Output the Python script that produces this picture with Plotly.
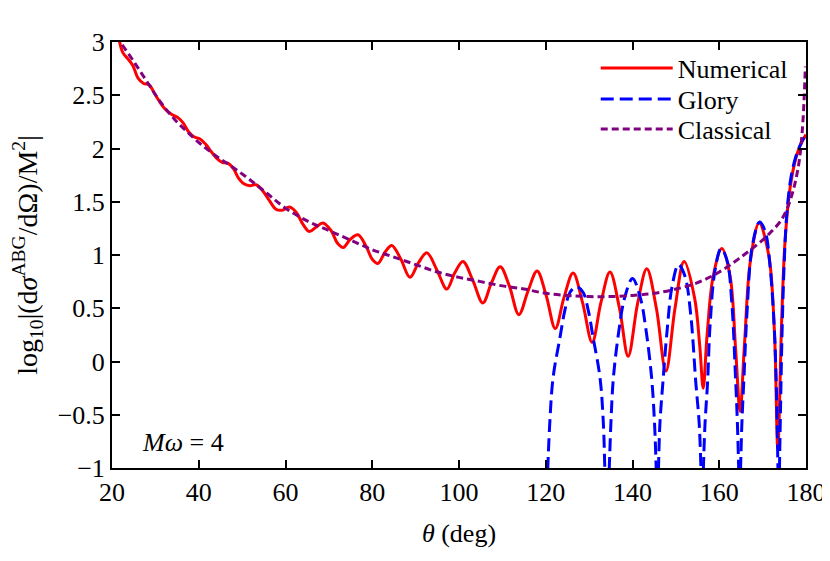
import plotly.graph_objects as go

# ---- data ----
num_theta = [21.6, 22.5, 23.7, 24.8, 26.0, 27.3, 28.5, 29.9, 31.3, 32.5, 33.8, 35.2, 36.4, 37.6,
             38.9, 40.3, 41.6, 42.9, 44.1, 45.4, 46.8, 48.0, 49.2, 50.4, 51.8, 53.2, 54.6, 56.3,
             57.8, 59.2, 60.9, 62.5, 64.0, 65.5, 67.0, 68.6, 70.5, 72.0, 73.3, 75.0, 76.7, 78.6,
             80.0, 81.3, 83.0, 84.5, 86.6, 88.7, 90.7, 92.6, 94.9, 97.2, 99.0, 100.9, 103.2,
             105.5, 107.5, 109.5, 111.6, 113.8, 115.9, 118.0, 120.1, 122.2, 124.2, 126.3, 128.5,
             130.7, 132.7, 134.8, 137.0, 139.0, 141.2, 143.3, 145.5, 147.7, 149.8, 151.9, 154.3,
             155.5, 156.3, 157.2, 158.6, 160.6, 162.5, 163.8, 164.8, 165.8, 167.2, 169.2, 171.4,
             172.7, 173.5, 174.4, 175.2, 176.4, 177.8, 179.0, 180.0]
num_logsig = [3.03, 2.90, 2.84, 2.78, 2.66, 2.61, 2.60, 2.51, 2.42, 2.36, 2.32, 2.29, 2.24, 2.16,
              2.11, 2.09, 2.04, 1.97, 1.91, 1.87, 1.86, 1.81, 1.72, 1.67, 1.65, 1.66, 1.61, 1.51,
              1.43, 1.42, 1.45, 1.40, 1.29, 1.22, 1.26, 1.30, 1.23, 1.11, 1.07, 1.15, 1.19, 1.08,
              0.96, 0.92, 1.03, 1.09, 0.96, 0.79, 0.93, 1.02, 0.86, 0.68, 0.83, 0.94, 0.76,
              0.55, 0.74, 0.89, 0.71, 0.44, 0.66, 0.85, 0.62, 0.31, 0.60, 0.83, 0.55,
              0.18, 0.55, 0.84, 0.50, 0.05, 0.55, 0.87, 0.50, -0.09, 0.50, 0.94, 0.60,
              0.15, -0.25, 0.25, 0.80, 1.06, 0.80, 0.10, -0.47, 0.15, 0.95, 1.30, 1.00,
              0.30, -0.81, 0.40, 1.15, 1.65, 1.93, 2.06, 2.13]

# Glory approximation: separate lobes (None = break where the log diverges)
glory_theta = [120.3, 120.9, 121.7, 123.3, 124.4, 125.6, 127.1, 128.6, 129.8, 130.9, 132.5, 133.3, 133.7, None,
               134.5, 135.0, 135.6, 136.9, 138.2, 140.0, 141.8, 143.1, 144.4, 145.1, 145.6, None,
               145.9, 146.3, 147.0, 148.0, 149.1, 150.6, 152.1, 153.4, 154.6, 155.4, 155.9, None,
               156.2, 156.7, 157.3, 157.9, 159.0, 160.4, 161.8, 162.9, 163.7, 164.2, 164.6, None,
               164.8, 165.2, 165.7, 166.4, 167.6, 169.3, 170.6, 171.7, 172.7, 173.2, 173.6, None,
               173.8, 174.1, 174.5, 175.0, 175.6, 176.5, 177.7, 179.0, 180.0]
glory_logsig = [-1.2, -0.6, -0.15, 0.23, 0.48, 0.65, 0.70, 0.65, 0.48, 0.23, -0.15, -0.6, -1.2, None,
                -1.2, -0.6, -0.15, 0.30, 0.60, 0.78, 0.60, 0.30, -0.15, -0.6, -1.2, None,
                -1.2, -0.6, -0.2, 0.30, 0.70, 0.91, 0.80, 0.45, -0.2, -0.6, -1.2, None,
                -1.2, -0.6, -0.2, 0.35, 0.85, 1.06, 0.95, 0.55, -0.1, -0.6, -1.2, None,
                -1.2, -0.6, -0.15, 0.46, 1.08, 1.31, 1.22, 0.90, 0.30, -0.3, -1.2, None,
                -1.2, -0.5, 0.3, 0.95, 1.40, 1.72, 1.93, 2.06, 2.13]

class_theta = [21.0, 22.1, 25.3, 28.5, 31.3, 34.5, 37.5, 40.5, 44.0, 48.0, 52.0, 56.0, 60.0, 65.0,
               70.0, 75.0, 80.0, 85.0, 90.0, 95.0, 100.0, 105.0, 110.0, 115.0, 120.0, 125.0, 130.0,
               135.0, 140.0, 145.0, 150.0, 155.0, 160.0, 165.0, 170.0, 172.0, 174.0, 175.5, 176.5,
               177.5, 178.5, 179.2, 179.6, 179.85]
class_logsig = [3.06, 2.99, 2.80, 2.60, 2.43, 2.27, 2.15, 2.04, 1.93, 1.82, 1.70, 1.57, 1.44, 1.32,
                1.23, 1.14, 1.05, 0.98, 0.91, 0.84, 0.79, 0.75, 0.71, 0.68, 0.64, 0.62, 0.61,
                0.61, 0.62, 0.64, 0.68, 0.74, 0.84, 0.98, 1.14, 1.22, 1.31, 1.42, 1.53,
                1.68, 1.90, 2.20, 2.50, 2.77]

x_ticks = [20, 40, 60, 80, 100, 120, 140, 160, 180]
y_ticks = [-1, -0.5, 0, 0.5, 1, 1.5, 2, 2.5, 3]
y_ticklabels = ["\u22121", "\u22120.5", "0", "0.5", "1", "1.5", "2", "2.5", "3"]

FONT = "Liberation Serif"

fig = go.Figure()
fig.add_trace(go.Scatter(x=num_theta, y=num_logsig, mode="lines", name="Numerical", legend="legend",
                         line=dict(color="#ff0000", width=3, shape="spline", smoothing=1.0)))
fig.add_trace(go.Scatter(x=glory_theta, y=glory_logsig, mode="lines", name="Glory", legend="legend2",
                         connectgaps=False,
                         line=dict(color="#0000ff", width=3, dash="13px,6px", shape="spline", smoothing=1.0)))
fig.add_trace(go.Scatter(x=class_theta, y=class_logsig, mode="lines", name="Classical", legend="legend3",
                         line=dict(color="#800080", width=3, dash="7px,4px", shape="spline", smoothing=1.0)))

axis_common = dict(showgrid=False, zeroline=False, showline=True, linecolor="black", linewidth=2,
                   mirror="ticks", ticks="inside", ticklen=8, tickwidth=1.5, tickcolor="black",
                   automargin=False,
                   tickfont=dict(family=FONT, size=26, color="black"))

fig.update_xaxes(range=[20, 180], tickvals=x_ticks, ticktext=[str(v) for v in x_ticks],
                 title=dict(text="<i>θ</i> (deg)", font=dict(family=FONT, size=26, color="black"),
                            standoff=18),
                 **axis_common)
fig.update_yaxes(range=[-1, 3], tickvals=y_ticks, ticktext=y_ticklabels,
                 title=dict(text="log<sub>10</sub>|(d<i>σ</i><sup>ABG</sup>/dΩ)/M<sup>2</sup>|",
                            font=dict(family=FONT, size=28, color="black"), standoff=34),
                 **axis_common)

fig.add_annotation(x=0.04, y=0.06, xref="paper", yref="paper", xanchor="left", yanchor="middle",
                   text="<i>Mω</i> = 4", showarrow=False,
                   font=dict(family=FONT, size=26, color="black"))

leg_common = dict(xanchor="left", yanchor="middle", bgcolor="rgba(0,0,0,0)", itemwidth=72,
                  font=dict(family=FONT, size=26, color="black"))
# the page body adds an 8px offset, so the figure is 8px smaller and margins shifted
fig.update_layout(
    width=822, height=553,
    margin=dict(l=104, r=24, t=34, b=93),
    paper_bgcolor="white", plot_bgcolor="white",
    font=dict(family=FONT, size=26, color="black"),
    showlegend=True,
    legend=dict(x=0.697, y=1 - (68 - 42) / 426, **leg_common),
    legend2=dict(x=0.697, y=1 - (99 - 42) / 426, **leg_common),
    legend3=dict(x=0.697, y=1 - (129 - 42) / 426, **leg_common),
)

fig.write_html("out.html")
